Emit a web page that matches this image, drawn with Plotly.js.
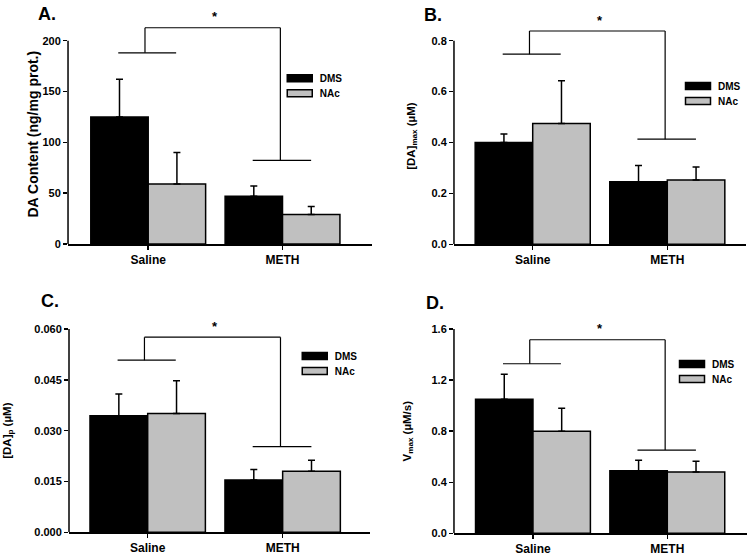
<!DOCTYPE html>
<html>
<head>
<meta charset="utf-8">
<script src="https://cdn.plot.ly/plotly-3.0.1.min.js"></script>
<style>html,body{margin:0;padding:0;background:#fff}#chart{width:750px;height:559px}</style>
</head>
<body>
<div id="chart"></div>
<script>
// ---------- data ----------
const categories = ['Saline', 'METH'];
const seriesNames = ['DMS', 'NAc'];

const aDMS = [125, 47],      aDMSerr = [37, 10];
const aNAc = [59, 29],       aNAcErr = [31, 8];
const bDMS = [0.40, 0.246],  bDMSerr = [0.033, 0.064];
const bNAc = [0.475, 0.253], bNAcErr = [0.168, 0.051];
const cDMS = [0.0344, 0.0154], cDMSerr = [0.0064, 0.0031];
const cNAc = [0.0351, 0.0180], cNAcErr = [0.0096, 0.0033];
const dDMS = [1.05, 0.49],   dDMSerr = [0.195, 0.082];
const dNAc = [0.80, 0.48],   dNAcErr = [0.18, 0.084];

// significance bracket levels: [Saline arm, top bar, METH arm]
const aSig = [188, 212.7, 82.3];
const bSig = [0.747, 0.838, 0.413];
const cSig = [0.0508, 0.0576, 0.0253];
const dSig = [1.328, 1.516, 0.652];

const aTicks = [0, 50, 100, 150, 200];
const bTicks = [0, 0.2, 0.4, 0.6, 0.8];
const cTicks = [0, 0.015, 0.030, 0.045, 0.060];
const dTicks = [0, 0.4, 0.8, 1.2, 1.6];

const panelLetters = ['A.', 'B.', 'C.', 'D.'];
const yTitles = ['DA Content (ng/mg prot.)', '[DA]<sub>max</sub> (µM)', '[DA]<sub>p</sub> (µM)', 'V<sub>max</sub> (µM/s)'];

// ---------- styling ----------
const FONT = 'Arial, "Liberation Sans", sans-serif';
const colors = ['#000000', '#c0c0c0'];

const panels = [
  {ax: '', dms: aDMS, dmsErr: aDMSerr, nac: aNAc, nacErr: aNAcErr, sig: aSig, ticks: aTicks, fmt: 'd',
   xdom: [0.0907, 0.4956], ydom: [0.5635, 0.9564], xr: [-0.597, 1.664], yr: [0, 216],
   legend: 'legend', lx: 0.373, ly: 0.886, tsize: 14, stand: 0},
  {ax: '2', dms: bDMS, dmsErr: bDMSerr, nac: bNAc, nacErr: bNAcErr, sig: bSig, ticks: bTicks, fmt: '.1f',
   xdom: [0.6053, 0.9947], ydom: [0.563, 0.950], xr: [-0.585, 1.585], yr: [0, 0.85],
   legend: 'legend2', lx: 0.904, ly: 0.872, tsize: 11.5, stand: 13},
  {ax: '3', dms: cDMS, dmsErr: cDMSerr, nac: cNAc, nacErr: cNAcErr, sig: cSig, ticks: cTicks, fmt: '.3f',
   xdom: [0.092, 0.4933], ydom: [0.0478, 0.4114], xr: [-0.583, 1.647], yr: [0, 0.060],
   legend: 'legend3', lx: 0.393, ly: 0.389, tsize: 11.5, stand: 20},
  {ax: '4', dms: dDMS, dmsErr: dDMSerr, nac: dNAc, nacErr: dNAcErr, sig: dSig, ticks: dTicks, fmt: '.1f',
   xdom: [0.6053, 0.9956], ydom: [0.0459, 0.4114], xr: [-0.588, 1.591], yr: [0, 1.6],
   legend: 'legend4', lx: 0.896, ly: 0.375, tsize: 11.5, stand: 17}
];
const letterPos = [[46.7, 13.7], [433.5, 15], [49.7, 301.2], [434.7, 303.3]];

const traces = [];
const shapes = [];
const annotations = [];
const layout = {
  width: 750, height: 559,
  margin: {l: 0, r: 0, t: 0, b: 0},
  paper_bgcolor: '#ffffff', plot_bgcolor: 'rgba(0,0,0,0)',
  barmode: 'group', bargap: 0.145, bargroupgap: 0,
  font: {family: FONT, color: '#000', size: 11, weight: 'bold'},
  showlegend: true
};

panels.forEach((p, i) => {
  const xa = 'x' + p.ax, ya = 'y' + p.ax;
  const series = [[p.dms, p.dmsErr], [p.nac, p.nacErr]];
  series.forEach((s, k) => {
    traces.push({
      type: 'bar', x: categories, y: s[0], name: seriesNames[k],
      xaxis: xa, yaxis: ya, legend: p.legend,
      marker: {color: colors[k], line: {color: '#000', width: 1.5}},
      error_y: {type: 'data', symmetric: false, array: s[1], arrayminus: s[1].map(() => 0),
                color: '#000', thickness: 1.5, width: 3.5},
      hoverinfo: 'skip'
    });
  });
  layout['xaxis' + p.ax] = {
    domain: p.xdom, anchor: ya, range: p.xr, type: 'category',
    showline: true, linecolor: '#000', linewidth: 1.5, showgrid: false, zeroline: false,
    ticks: 'outside', ticklen: 4, tickwidth: 1.5, tickcolor: '#000',
    tickfont: {size: 12, family: FONT, weight: 'bold'}, ticklabelstandoff: 0, fixedrange: true
  };
  layout['yaxis' + p.ax] = {
    domain: p.ydom, anchor: xa, range: p.yr,
    showline: false, showgrid: false, zeroline: false,
    tickmode: 'array', tickvals: p.ticks, tickformat: p.fmt,
    ticks: 'outside', ticklen: 4, tickwidth: 1.5, tickcolor: '#000',
    tickfont: {size: 11, family: FONT, weight: 'bold'},
    title: {text: yTitles[i], font: {size: p.tsize, family: FONT, weight: 'bold'}, standoff: p.stand},
    fixedrange: true
  };
  layout[p.legend] = {
    x: p.lx, y: p.ly, xanchor: 'left', yanchor: 'top', bgcolor: 'rgba(0,0,0,0)',
    font: {size: 10, family: FONT, weight: 'bold'}, tracegroupgap: 0, itemclick: false
  };
  // y axis line (only up to the top tick)
  shapes.push({type: 'line', xref: xa + ' domain', yref: ya, x0: 0, x1: 0,
               y0: p.ticks[0], y1: p.ticks[p.ticks.length - 1], line: {color: '#000', width: 1.5}});
  // significance bracket
  const ln = {color: '#000', width: 1.2};
  const segs = [
    [-0.223, p.sig[0], 0.208, p.sig[0]],
    [-0.024, p.sig[0], -0.024, p.sig[1]],
    [-0.024, p.sig[1], 0.984, p.sig[1]],
    [0.984, p.sig[1], 0.984, p.sig[2]],
    [0.778, p.sig[2], 1.213, p.sig[2]]
  ];
  segs.forEach(s => shapes.push({type: 'line', xref: xa, yref: ya,
    x0: s[0], y0: s[1], x1: s[2], y1: s[3], line: ln}));
  annotations.push({xref: xa, yref: ya, x: 0.5, y: p.sig[1], yshift: 11, text: '*',
    showarrow: false, xanchor: 'center', yanchor: 'middle', font: {size: 13, family: FONT, weight: 'bold'}});
  annotations.push({xref: 'paper', yref: 'paper', x: letterPos[i][0] / 750, y: 1 - letterPos[i][1] / 559,
    text: panelLetters[i], showarrow: false, xanchor: 'center', yanchor: 'middle',
    font: {size: 18, family: FONT, weight: 'bold'}});
});
layout.shapes = shapes;
layout.annotations = annotations;

// wide, flat legend swatches and tighter item spacing, as in the original figure
function fixLegends(gd) {
  gd.querySelectorAll('g.legendpoints path').forEach(p => {
    p.setAttribute('d', 'M12.5,3.5H-12.5V-3.5H12.5Z');
  });
  gd.querySelectorAll('g.scrollbox').forEach(box => {
    const items = box.querySelectorAll('g.traces');
    if (items.length < 2) return;
    const m = /translate\(\s*([-\d.]+)[ ,]+([-\d.]+)\s*\)/.exec(items[0].getAttribute('transform') || '');
    if (!m) return;
    const x0 = parseFloat(m[1]), y0 = parseFloat(m[2]);
    items.forEach((it, k) => it.setAttribute('transform', 'translate(' + x0 + ',' + (y0 + 15 * k) + ')'));
  });
}

const gdEl = document.getElementById('chart');
Plotly.newPlot(gdEl, traces, layout, {staticPlot: true, displayModeBar: false}).then(gd => {
  fixLegends(gd);
  gd.on('plotly_afterplot', () => fixLegends(gd));
  setTimeout(() => fixLegends(gd), 50);
});
</script>
</body>
</html>
